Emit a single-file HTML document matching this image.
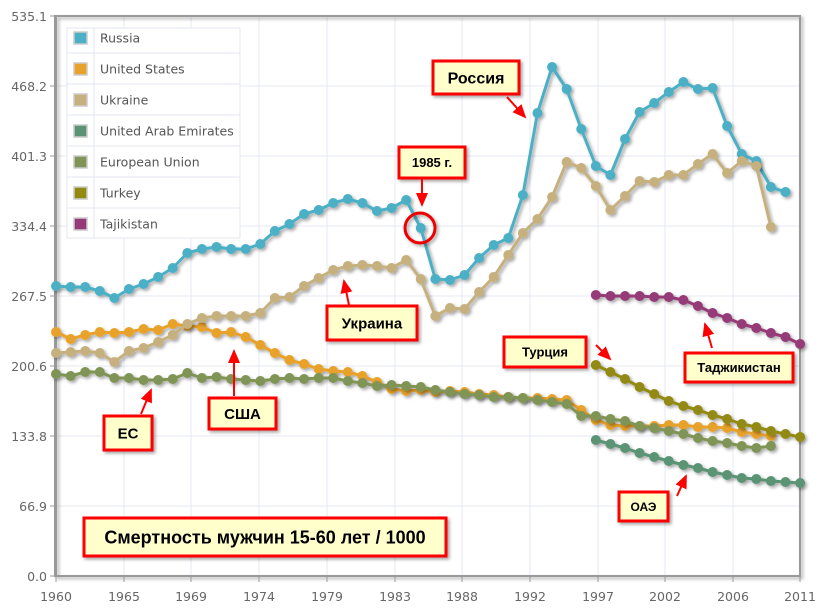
<!DOCTYPE html>
<html><head><meta charset="utf-8"><style>
body{margin:0;background:#fff;}
svg{display:block;font-family:"DejaVu Sans","Liberation Sans",sans-serif;}
.ax{font-size:12.5px;fill:#666;}
.lg{font-size:12.5px;fill:#555;}
.bx{font-family:"Liberation Sans","DejaVu Sans",sans-serif;font-weight:bold;fill:#000;}
</style></head><body>
<svg id="s" width="822" height="611" xmlns="http://www.w3.org/2000/svg">
<defs><filter id="sh" x="-10%" y="-10%" width="130%" height="140%"><feDropShadow dx="2" dy="2" stdDeviation="1.5" flood-color="#000" flood-opacity="0.35"/></filter>
<marker id="ar" markerWidth="8" markerHeight="8" refX="6" refY="3" orient="auto"><path d="M0,0 L7,3 L0,6 z" fill="#f00"/></marker></defs>
<rect x="0" y="0" width="822" height="611" fill="#fff"/>
<g id="grid" stroke="#e6e9f3" stroke-width="1"></g>
<rect x="56" y="16" width="744" height="560" fill="none" stroke="#9a9a9a" stroke-width="2" filter="url(#sh)"/>
<line x1="55" y1="15" x2="55" y2="577" stroke="#999" stroke-width="2"/>
<line x1="55" y1="576" x2="800" y2="576" stroke="#999" stroke-width="2"/>
<g id="series"></g>
<g id="ann"></g>
</svg>
<script>
var s=document.getElementById('s'),NS='http://www.w3.org/2000/svg';
function el(p,t,a,txt){var e=document.createElementNS(NS,t);for(var k in a)e.setAttribute(k,a[k]);if(txt!=null)e.textContent=txt;p.appendChild(e);return e;}
var g=document.getElementById('grid');
var yl=[[16,'535.1'],[86,'468.2'],[156,'401.3'],[226,'334.4'],[296,'267.5'],[366,'200.6'],[436,'133.8'],[506,'66.9'],[576,'0.0']];
yl.forEach(function(v){el(g,'line',{x1:56,x2:800,y1:v[0],y2:v[0]});el(s,'text',{x:47,y:v[0]+5,'text-anchor':'end','class':'ax'},v[1]);el(s,'line',{x1:50,x2:56,y1:v[0],y2:v[0],stroke:'#999'});});
var xl=[[56,'1960'],[124,'1965'],[191,'1969'],[259,'1974'],[327,'1979'],[395,'1983'],[462,'1988'],[530,'1992'],[598,'1997'],[665,'2002'],[733,'2006'],[800,'2011']];
xl.forEach(function(v){el(g,'line',{x1:v[0],x2:v[0],y1:16,y2:576});el(s,'text',{x:v[0],y:601,'text-anchor':'middle','class':'ax'},v[1]);el(s,'line',{x1:v[0],x2:v[0],y1:576,y2:582,stroke:'#999'});});
function X(yr){return 56+(yr-1960)*14.59;}
var S=[
['#4bb0c6',1960,[286,287,287,291,298,289,284,277,268,253,249,247,249,249,244,231,224,214,210,203,199,203,211,208,200,228,279,280,275,258,245,238,195,113,67,89,129,166,175,139,112,103,92,82,89,88,126,154,161,187,192]],
['#e8a22c',1960,[332,339,335,332,333,332,329,330,324,326,327,333,332,337,345,353,360,364,369,371,372,376,382,389,391,390,392,391,392,394,395,397,398,398,399,400,410,420,425,426,426,426,425,425,427,427,428,432,434,436]],
['#c5b07e',1960,[353,352,351,353,362,351,348,342,335,324,318,316,316,316,313,298,297,286,278,270,266,265,266,268,260,279,316,308,309,292,277,255,233,219,197,162,168,186,210,196,181,182,175,175,164,154,173,161,166,227]],
['#5a9474',1997,[440,444,448,453,457,461,465,468,472,475,478,479,481,482,483]],
['#7f9455',1960,[374,376,372,372,378,378,380,380,379,373,378,377,379,380,381,379,378,379,378,378,381,383,386,385,386,387,390,392,394,395,397,397,398,400,402,404,416,416,419,421,426,428,431,434,438,441,443,446,448,446]],
['#938a12',1997,[365,372,379,387,394,401,406,410,415,419,424,427,431,434,437]],
['#953a78',1997,[295,296,296,296,297,297,300,306,313,318,324,328,333,337,344]]];
var sg=document.getElementById('series');
S.forEach(function(se){var pts=se[2].map(function(y,i){return [X(se[1]+i),y];});
var gg=el(sg,'g',{filter:'url(#sh)'});
el(gg,'polyline',{points:pts.map(function(p){return p.join(',')}).join(' '),fill:'none',stroke:se[0],'stroke-width':3,'stroke-linejoin':'round'});
pts.forEach(function(p){el(gg,'circle',{cx:p[0],cy:p[1],r:5,fill:se[0]});});});
// legend
var lg=el(s,'g',{});
el(lg,'rect',{x:67,y:28,width:173,height:210,fill:'#fff',stroke:'#e3e7f0'});
el(lg,'line',{x1:94,x2:94,y1:28,y2:238,stroke:'#e3e7f0'});
var names=['Russia','United States','Ukraine','United Arab Emirates','European Union','Turkey','Tajikistan'];
var cols=['#4bb0c6','#e8a22c','#c5b07e','#5a9474','#7f9455','#938a12','#953a78'];
names.forEach(function(n,i){var c=38+i*31;if(i>0)el(lg,'line',{x1:67,x2:240,y1:c-16,y2:c-16,stroke:'#e3e7f0'});
el(lg,'rect',{x:74,y:c-6,width:13,height:12,fill:cols[i],stroke:'#ccc','stroke-width':1.5});
el(lg,'text',{x:100,y:c+4.5,'class':'lg'},n);});
// annotations
var an=document.getElementById('ann');
function box(x,y,w,h,t,fs){el(an,'rect',{x:x,y:y,width:w,height:h,fill:'#ffffcc',stroke:'#f00','stroke-width':3,filter:'url(#sh)'});el(an,'text',{x:x+w/2,y:y+h/2+fs*0.36,'text-anchor':'middle','class':'bx','font-size':fs},t);}
function arr(x1,y1,x2,y2){el(an,'line',{x1:x1,y1:y1,x2:x2,y2:y2,stroke:'#f00','stroke-width':2,'marker-end':'url(#ar)'});}
box(433,61,86,33,'Россия',16);arr(507,97,525,117);
box(399,147,66,31,'1985 г.',13);arr(422,179,422,205);
el(an,'circle',{cx:420,cy:228,r:15,fill:'none',stroke:'#e00','stroke-width':3,filter:'url(#sh)'});
box(327,306,90,34,'Украина',15);arr(349,305,344,281);
box(104,416,48,34,'ЕС',15);arr(141,414,151,390);
box(209,398,67,31,'США',15);arr(234,396,234,351);
box(84,518,362,38,'Смертность мужчин 15-60 лет / 1000',18);
box(504,337,82,30,'Турция',13);arr(596,345,610,359);
box(685,353,108,29,'Таджикистан',13);arr(712,348,705,324);
box(619,492,49,29,'ОАЭ',12);arr(677,496,686,476);
</script>
</body></html>
